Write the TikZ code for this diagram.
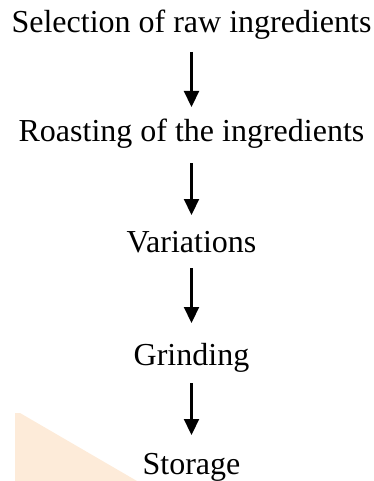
\documentclass[tikz,border=0pt]{standalone}
\usepackage{fontspec}
\setmainfont{Liberation Serif}
\usetikzlibrary{arrows.meta}
\definecolor{peach}{HTML}{FDEBD9}
\begin{document}
\begin{tikzpicture}[x=1pt,y=-1pt,
  stage/.style={anchor=base,inner sep=0pt,font=\fontsize{32}{38}\selectfont},
  flow/.style={line width=2.2pt,-{Triangle[length=16pt,width=15pt]}}]
\useasboundingbox (0,0) rectangle (373,481);
\fill[peach] (15,413) -- (20,413) -- (137,481) -- (15,481) -- cycle;
\node[stage] (s1) at (191.5,33) {Selection of raw ingredients};
\node[stage] (s2) at (191.5,142) {Roasting of the ingredients};
\node[stage] (s3) at (191.5,252) {Variations};
\node[stage] (s4) at (191.5,365) {Grinding};
\node[stage] (s5) at (191.5,474) {Storage};
\draw[flow] ([yshift=-19pt]s1.base) -- ([yshift=35pt]s2.base);
\draw[flow] ([yshift=-21pt]s2.base) -- ([yshift=37pt]s3.base);
\draw[flow] ([yshift=-16pt]s3.base) -- ([yshift=42pt]s4.base);
\draw[flow] ([yshift=-18pt]s4.base) -- ([yshift=39pt]s5.base);
\end{tikzpicture}
\end{document}
